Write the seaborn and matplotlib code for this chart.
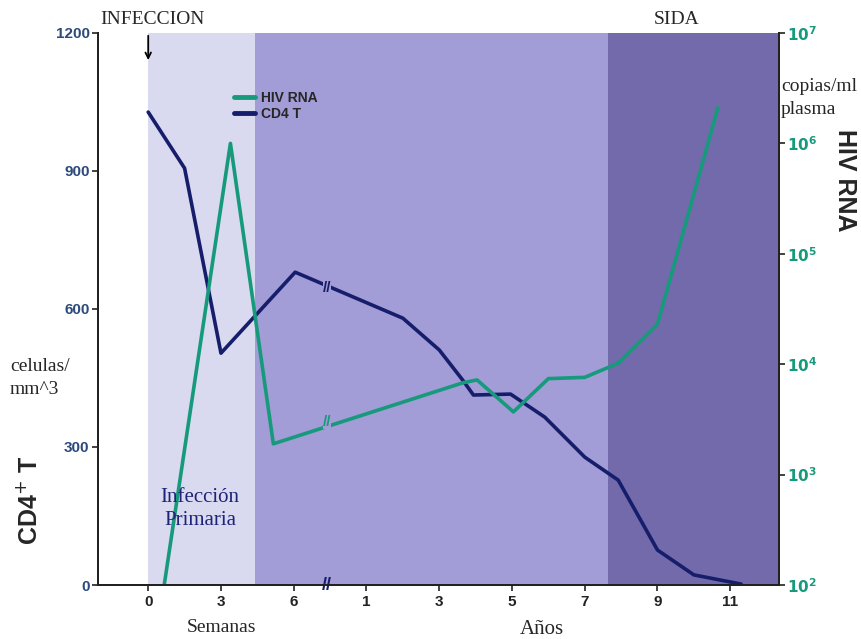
import numpy as np
import pandas as pd
from matplotlib import pyplot as plt
from matplotlib.lines import Line2D
import seaborn as sns

# x axis: evenly spaced ticks, weeks then years (broken axis)
tick_labels = ['0', '3', '6', '1', '3', '5', '7', '9', '11']
tick_pos = list(range(len(tick_labels)))

# CD4 T cells (celulas/mm^3), x in tick units
cd4_x = [0, 0.5, 1.0, 2.02, 3.5, 4.0, 4.32, 4.47, 4.98, 5.45, 6.0, 6.46, 7.0, 7.5, 8.15]
cd4_y = [1028, 906, 504, 680, 580, 511, 446, 413, 415, 365, 278, 228, 76, 22, 2]

# HIV RNA (copias/ml plasma)
rna_x = [0.22, 1.13, 1.72, 4.33, 4.52, 5.02, 5.5, 6.0, 6.46, 7.0, 7.83]
rna_y = [1.0e2, 1.0e6, 1.9e3, 6.8e3, 7.2e3, 3.7e3, 7.4e3, 7.6e3, 1.02e4, 2.3e4, 2.1e6]

# phases: primary infection / chronic / SIDA
phase_edges = [0, 1.47, 6.32, 8.67]
phase_colors = ['#d9d9f0', '#a29cd7', '#726aab']

navy = '#161e6c'
teal = '#179a7c'
tick_blue = '#2d4a7c'

df_cd4 = pd.DataFrame({'x': cd4_x, 'y': cd4_y})
df_rna = pd.DataFrame({'x': rna_x, 'y': rna_y})

sns.set_style("ticks")
plt.rcParams['font.family'] = ['Liberation Sans', 'DejaVu Sans']

fig = plt.figure(figsize=(8.62, 6.39), dpi=100)
ax = fig.add_axes([0.1137, 0.0845, 0.79, 0.8639])
ax2 = ax.twinx()

for i in range(len(phase_colors)):
    ax.axvspan(phase_edges[i], phase_edges[i + 1], color=phase_colors[i], lw=0, zorder=0)

sns.lineplot(data=df_cd4, x='x', y='y', ax=ax, color=navy, lw=2.6, estimator=None, sort=False)
sns.lineplot(data=df_rna, x='x', y='y', ax=ax2, color=teal, lw=2.6, estimator=None, sort=False)

ax.set_xlim(-0.69, 8.67)
ax.set_ylim(0, 1200)
ax2.set_yscale('log')
ax2.set_ylim(1e2, 1e7)

ax.set_xticks(tick_pos)
ax.set_xticklabels(tick_labels, fontsize=11, fontweight='bold', color='#222222')
ax.set_yticks([0, 300, 600, 900, 1200])
ax.set_yticklabels(['0', '300', '600', '900', '1200'], fontsize=11, fontweight='bold', color=tick_blue)
ax2.set_yticks([10.0 ** k for k in range(2, 8)])
ax2.set_yticklabels([r'$\mathbf{10^{%d}}$' % k for k in range(2, 8)], fontsize=11, color=teal)
ax2.minorticks_off()
ax.set_xlabel('')
ax.set_ylabel('')
ax2.set_ylabel('')

for a in (ax, ax2):
    a.spines['top'].set_visible(False)
    for s in ('left', 'right', 'bottom'):
        a.spines[s].set_linewidth(1.4)
        a.spines[s].set_color('#222222')
    a.tick_params(length=4, width=1.2, color='#222222')
ax.tick_params(axis='y', pad=2)
ax2.tick_params(axis='y', pad=2)

# break marks
ax.text(2.46, 0, '//', color=navy, fontsize=13, fontweight='bold', ha='center', va='center', zorder=5)
ax.text(2.46, 645, '//', color=navy, fontsize=11, fontweight='bold', ha='center', va='center', zorder=5,
        bbox=dict(facecolor=phase_colors[1], edgecolor='none', pad=0))
ax2.text(2.46, 3.0e3, '//', color=teal, fontsize=11, fontweight='bold', ha='center', va='center', zorder=5,
         bbox=dict(facecolor=phase_colors[1], edgecolor='none', pad=0))

# infection arrow
ax.annotate('', xy=(0, 1135), xytext=(0, 1200),
            arrowprops=dict(arrowstyle='->', color='black', lw=1.3))

serif = ['Liberation Serif', 'DejaVu Serif']
fig.text(100 / 862, 1 - 20 / 639, 'INFECCION', family=serif, fontsize=14, ha='left', va='center')
fig.text(677 / 862, 1 - 20 / 639, 'SIDA', family=serif, fontsize=14, ha='center', va='center')
fig.text(781 / 862, 1 - 98 / 639, 'copias/ml\nplasma', family=serif, fontsize=14,
         ha='left', va='center', linespacing=1.45)
fig.text(845 / 862, 1 - 180 / 639, 'HIV RNA', fontsize=18, fontweight='bold', rotation=-90,
         ha='center', va='center')
fig.text(10 / 862, 1 - 378 / 639, 'celulas/\nmm^3', family=serif, fontsize=14,
         ha='left', va='center', linespacing=1.45)
fig.text(30 / 862, 1 - 500 / 639, 'CD4$^{+}$ T', fontsize=18, fontweight='bold', rotation=90,
         ha='center', va='center')
fig.text(200 / 862, 1 - 509 / 639, 'Infección\nPrimaria', family=serif, fontsize=15,
         color='#1e2378', ha='center', va='center', linespacing=1.3)
fig.text(222 / 862, 1 - 628 / 639, 'Semanas', family=serif, fontsize=14, ha='center', va='center')
fig.text(542 / 862, 1 - 630 / 639, 'Años', family=serif, fontsize=15, ha='center', va='center')

handles = [Line2D([], [], color=teal, lw=3.5), Line2D([], [], color=navy, lw=3.5)]
fig.legend(handles, ['HIV RNA', 'CD4 T'], loc='upper left', bbox_to_anchor=(222 / 862, 1 - 78 / 639),
           frameon=False, handlelength=1.5, handletextpad=0.4, labelspacing=0.15,
           prop={'size': 10, 'weight': 'bold'})

plt.savefig('out.png', dpi=100)
